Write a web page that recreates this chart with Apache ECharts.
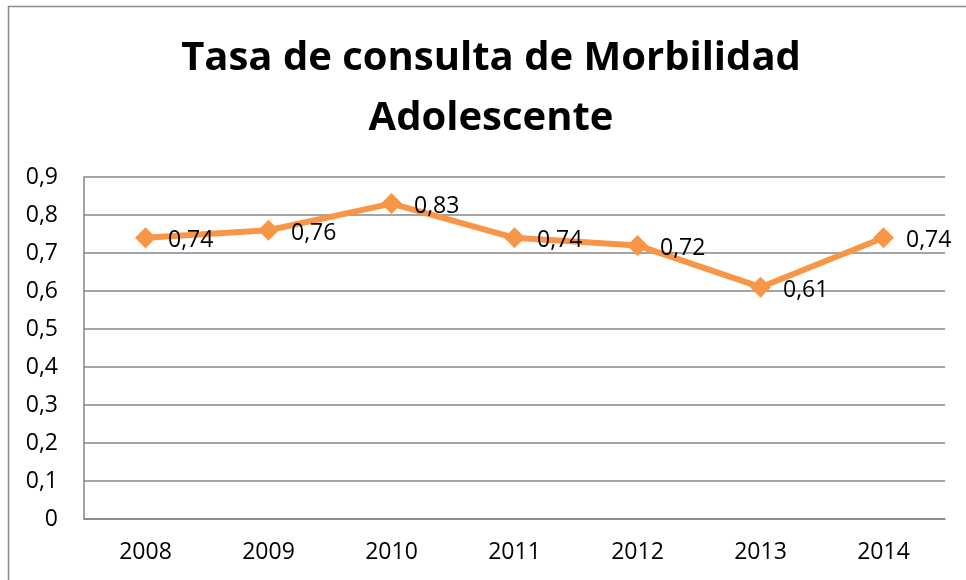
<!DOCTYPE html>
<html>
<head>
<meta charset="utf-8">
<script src="https://cdn.jsdelivr.net/npm/echarts@6/dist/echarts.min.js"></script>
<style>
  html, body { margin: 0; padding: 0; background: #fff; }
  #chart { width: 966px; height: 580px; }
</style>
</head>
<body>
<div id="chart"></div>
<script>
const years = ['2008', '2009', '2010', '2011', '2012', '2013', '2014'];
const rates = [0.74, 0.76, 0.83, 0.74, 0.72, 0.61, 0.74];
const titleText = 'Tasa de consulta de Morbilidad\nAdolescente';

const font = '"Open Sans", "Noto Sans", sans-serif';
const comma = (v, d) => v.toFixed(d).replace('.', ',');

var myChart = echarts.init(document.getElementById('chart'));
let option = {
    backgroundColor: '#fff',
    animation: false,
    title: {
        text: titleText,
        left: 486,
        top: 24,
        textAlign: 'center',
        textStyle: {
            fontFamily: font,
            fontWeight: 'bold',
            fontSize: 40,
            lineHeight: 60,
            color: '#000'
        }
    },
    graphic: [{
        type: 'rect',
        shape: { x: 8.5, y: 6.5, width: 1000, height: 1000 },
        style: { fill: 'none', stroke: '#8c8c8c', lineWidth: 1.5 },
        silent: true
    }],
    grid: { left: 84, right: 21, top: 177, bottom: 61 },
    xAxis: {
        type: 'category',
        data: years,
        axisLine: { show: true, lineStyle: { color: '#868686', width: 1.5 } },
        axisTick: { show: false },
        axisLabel: { fontFamily: font, fontSize: 23, color: '#000', margin: 22 }
    },
    yAxis: {
        type: 'value',
        min: 0,
        max: 0.9,
        interval: 0.1,
        axisLine: { show: true, lineStyle: { color: '#868686', width: 1.5 } },
        axisTick: { show: false },
        splitLine: { lineStyle: { color: '#868686', width: 1.5 } },
        axisLabel: {
            fontFamily: font, fontSize: 23, color: '#000', margin: 26,
            formatter: v => v === 0 ? '0' : comma(v, 1)
        }
    },
    series: [{
        type: 'line',
        data: rates,
        symbol: 'diamond',
        symbolSize: 21,
        lineStyle: { color: '#F79646', width: 6 },
        itemStyle: { color: '#F79646' },
        label: {
            show: true,
            position: 'right',
            distance: 12,
            offset: [0, 3],
            fontFamily: font,
            fontSize: 23,
            color: '#000',
            formatter: p => comma(p.value, 2)
        }
    }]
};
myChart.setOption(option);
</script>
</body>
</html>
